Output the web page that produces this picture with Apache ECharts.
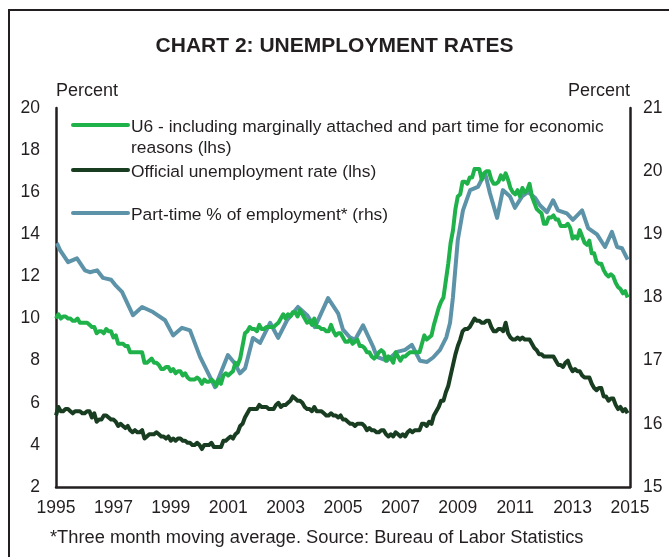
<!DOCTYPE html>
<html>
<head>
<meta charset="utf-8">
<script src="https://cdn.jsdelivr.net/npm/echarts@6/dist/echarts.min.js"></script>
<style>
html,body{margin:0;padding:0;background:#fff;}
#chart{width:669px;height:557px;}
</style>
</head>
<body>
<div id="chart"></div>
<script>
// ---- DATA ----
// monthly values, plotted from the left edge of the 1995 tick onward
const startYear = 1995;
const u6 = [
 10.0,10.2,10.0,10.1,10.1,10.0,10.0,9.9,9.9,10.0,
 9.8,9.8,9.8,9.8,9.7,9.6,9.6,9.3,9.4,9.4,9.3,9.5,
 9.4,9.4,9.1,9.2,8.8,8.8,8.8,8.7,8.7,8.4,8.4,8.4,
 8.4,8.4,8.4,7.9,7.9,8.0,8.1,7.9,7.9,7.8,7.6,7.6,
 7.7,7.7,7.5,7.6,7.4,7.5,7.5,7.3,7.4,7.2,7.1,7.1,
 7.1,7.2,7.1,6.9,7.1,7.0,7.0,7.1,7.0,6.8,7.1,6.9,
 7.3,7.4,7.3,7.4,7.5,7.9,7.8,8.1,8.7,9.3,9.4,9.6,
 9.5,9.5,9.4,9.7,9.5,9.5,9.6,9.6,9.6,9.6,9.7,9.8,
 10.0,10.2,10.0,10.2,10.1,10.3,10.3,10.1,10.4,10.2,10.0,9.8,
 9.9,9.7,10.0,9.6,9.6,9.5,9.5,9.4,9.4,9.7,9.4,9.2,
 9.3,9.3,9.1,8.9,8.9,9.0,8.8,8.9,9.0,8.7,8.7,8.6,
 8.4,8.4,8.2,8.1,8.2,8.4,8.5,8.4,8.0,8.2,8.1,7.9,
 8.4,8.2,8.0,8.2,8.2,8.3,8.4,8.4,8.4,8.4,8.4,8.8,
 9.2,9.0,9.1,9.2,9.7,10.1,10.5,10.8,11.0,11.8,12.6,13.6,
 14.2,15.2,15.8,15.9,16.5,16.5,16.4,16.7,16.7,17.1,17.1,17.1,
 16.6,16.9,17.0,17.0,16.6,16.4,16.4,16.5,16.8,16.6,16.9,16.6,
 16.2,16.0,15.9,16.1,15.8,16.2,16.0,16.1,16.4,15.8,15.5,15.2,
 15.1,15.0,14.5,14.5,14.8,14.8,14.9,14.7,14.7,14.4,14.4,14.4,
 14.5,14.3,13.8,13.9,13.8,14.2,13.9,13.6,13.5,13.7,13.1,13.1,
 12.7,12.6,12.6,12.3,12.1,12.0,12.1,12.0,11.7,11.5,11.4,11.2,
 11.3,11.0
];
const official = [
 5.4,5.8,5.6,5.6,5.7,5.7,5.6,5.5,5.6,5.6,
 5.6,5.5,5.5,5.6,5.6,5.3,5.5,5.1,5.2,5.2,5.4,5.4,
 5.3,5.2,5.2,5.1,4.9,5.0,4.9,4.8,4.9,4.7,4.6,4.7,
 4.6,4.6,4.7,4.3,4.4,4.5,4.5,4.5,4.6,4.5,4.4,4.4,
 4.3,4.4,4.2,4.3,4.2,4.3,4.3,4.2,4.2,4.1,4.1,4.0,
 4.0,4.1,4.0,3.8,4.0,4.0,4.0,4.1,3.9,3.9,3.9,3.9,
 4.2,4.2,4.3,4.4,4.3,4.5,4.6,4.9,5.0,5.3,5.5,5.7,
 5.7,5.7,5.7,5.9,5.8,5.8,5.8,5.7,5.7,5.7,5.9,6.0,
 5.8,5.9,5.9,6.0,6.1,6.3,6.2,6.1,6.1,6.0,5.8,5.7,
 5.7,5.6,5.8,5.6,5.6,5.6,5.5,5.4,5.4,5.5,5.4,5.4,
 5.3,5.4,5.2,5.2,5.1,5.0,5.0,4.9,5.0,5.0,5.0,4.9,
 4.7,4.8,4.7,4.7,4.6,4.6,4.7,4.7,4.5,4.4,4.5,4.4,
 4.6,4.5,4.4,4.5,4.4,4.6,4.7,4.6,4.7,4.7,4.7,5.0,
 5.0,4.9,5.1,5.0,5.4,5.6,5.8,6.1,6.1,6.5,6.8,7.3,
 7.8,8.3,8.7,9.0,9.4,9.5,9.5,9.6,9.8,10.0,9.9,9.9,
 9.8,9.8,9.9,9.9,9.6,9.4,9.4,9.5,9.5,9.4,9.8,9.3,
 9.1,9.0,9.0,9.1,9.0,9.1,9.0,9.0,9.0,8.8,8.6,8.5,
 8.3,8.3,8.2,8.2,8.2,8.2,8.2,8.0,7.8,7.8,7.7,7.9,
 8.0,7.7,7.5,7.6,7.5,7.5,7.3,7.2,7.2,7.2,6.9,6.7,
 6.6,6.7,6.7,6.3,6.3,6.1,6.2,6.2,5.9,5.7,5.8,5.6,
 5.7,5.5
];
// Part-time % of employment (3-month MA), rhs
const ptDates = [
 1995.03,1995.14,1995.42,1995.73,1996.01,1996.18,1996.43,1996.64,1996.92,1997.06,
 1997.30,1997.68,1998.00,1998.38,1998.80,1999.08,1999.39,1999.67,2000.02,2000.37,
 2000.54,2000.99,2001.24,2001.41,2001.59,2001.86,2002.11,2002.46,2002.74,2003.05,
 2003.43,2003.75,2004.02,2004.48,2004.83,2005.00,2005.24,2005.42,2005.70,2006.05,
 2006.18,2006.53,2006.88,2007.16,2007.40,2007.68,2007.93,2008.14,2008.38,2008.60,
 2008.73,2008.83,2009.00,2009.18,2009.43,2009.70,2009.95,2010.12,2010.37,2010.57,
 2010.82,2010.99,2011.24,2011.45,2011.69,2011.86,2012.11,2012.32,2012.49,2012.80,
 2013.01,2013.33,2013.54,2013.85,2014.13,2014.37,2014.55,2014.72,2014.92
];
const ptValues = [
 18.86,18.75,18.56,18.62,18.43,18.40,18.43,18.31,18.28,18.20,
 18.09,17.72,17.85,17.77,17.64,17.40,17.52,17.48,17.06,16.74,
 16.58,17.09,16.95,16.80,16.88,17.36,17.28,17.60,17.36,17.64,
 17.85,17.72,17.53,17.99,17.75,17.49,17.37,17.33,17.56,17.22,
 17.06,17.00,17.14,17.17,17.25,17.00,16.98,17.05,17.17,17.37,
 17.60,18.00,18.91,19.38,19.70,19.75,19.97,19.65,19.26,19.70,
 19.60,19.42,19.60,19.67,19.58,19.46,19.35,19.54,19.38,19.33,
 19.23,19.38,19.10,19.00,18.80,19.04,18.80,18.78,18.60
];
const yearTicks = [1995,1997,1999,2001,2003,2005,2007,2009,2011,2013,2015];
const seriesNames = [
  'U6 - including marginally attached and part time for economic',
  'Official unemployment rate (lhs)',
  'Part-time % of employment* (rhs)'
];
const u6SecondLine = 'reasons (lhs)';
const titleText = 'CHART 2: UNEMPLOYMENT RATES';
const footText = '*Three month moving average. Source: Bureau of Labor Statistics';

// ---- STYLE ----
const FONT = '"Liberation Sans", Arial, sans-serif';
const TXT = '#231f20';
const C_U6 = '#1fb24b';
const C_OFF = '#183d21';
const C_PT = '#5d93a8';

const monthly = arr => arr.map((v, i) => [startYear + i / 12, v]);

const chart = echarts.init(document.getElementById('chart'), null, {renderer: 'canvas'});

const axisLine = {show: true, lineStyle: {color: '#231f20', width: 2.5}};
const labelStyle = {color: TXT, fontSize: 17.5, fontFamily: FONT};
const LEG_FONT = '17.4px ' + FONT;

const legendItems = [
  {name: seriesNames[0], color: C_U6, y: 125},
  {name: seriesNames[1], color: C_OFF, y: 170},
  {name: seriesNames[2], color: C_PT, y: 213}
];
const legendGraphics = [];
legendItems.forEach(it => {
  legendGraphics.push({type: 'line', shape: {x1: 73, y1: it.y, x2: 128, y2: it.y},
    style: {stroke: it.color, lineWidth: 4, lineCap: 'round'}});
  legendGraphics.push({type: 'text', x: 131, y: it.y + 2,
    style: {text: it.name, fill: TXT, font: LEG_FONT, verticalAlign: 'middle'}});
});
legendGraphics.push({type: 'text', x: 131, y: 148,
  style: {text: u6SecondLine, fill: TXT, font: LEG_FONT, verticalAlign: 'middle'}});

const option = {
  backgroundColor: '#fff',
  animation: false,
  title: {
    text: titleText, left: 'center', top: 31,
    textStyle: {fontSize: 21, fontWeight: 'bold', color: TXT, fontFamily: FONT}
  },
  grid: {left: 56, right: 39, top: 108, bottom: 70, containLabel: false},
  xAxis: {
    type: 'value', min: 1995, max: 2015, interval: 2,
    axisLine: axisLine, axisTick: {show: false}, splitLine: {show: false},
    axisLabel: Object.assign({margin: 12, formatter: v => yearTicks.includes(v) ? String(v) : ''}, labelStyle)
  },
  yAxis: [
    {
      type: 'value', min: 2, max: 20, interval: 2, position: 'left',
      name: 'Percent', nameLocation: 'end', nameGap: 8,
      nameTextStyle: {color: TXT, fontSize: 18, fontFamily: FONT, align: 'left', verticalAlign: 'bottom'},
      axisLine: axisLine, axisTick: {show: false}, splitLine: {show: false},
      axisLabel: Object.assign({margin: 16}, labelStyle)
    },
    {
      type: 'value', min: 15, max: 21, interval: 1, position: 'right',
      name: 'Percent', nameLocation: 'end', nameGap: 8,
      nameTextStyle: {color: TXT, fontSize: 18, fontFamily: FONT, align: 'right', verticalAlign: 'bottom'},
      axisLine: axisLine, axisTick: {show: false}, splitLine: {show: false},
      axisLabel: Object.assign({margin: 13}, labelStyle)
    }
  ],
  series: [
    {
      name: seriesNames[2], type: 'line', yAxisIndex: 1, showSymbol: false, z: 2,
      data: ptDates.map((d, i) => [d, ptValues[i]]),
      lineStyle: {color: C_PT, width: 4, join: 'round'}, itemStyle: {color: C_PT}
    },
    {
      name: seriesNames[1], type: 'line', yAxisIndex: 0, showSymbol: false, z: 3,
      data: monthly(official),
      lineStyle: {color: C_OFF, width: 4, join: 'round'}, itemStyle: {color: C_OFF}
    },
    {
      name: seriesNames[0], type: 'line', yAxisIndex: 0, showSymbol: false, z: 4,
      data: monthly(u6),
      lineStyle: {color: C_U6, width: 4, join: 'round'}, itemStyle: {color: C_U6}
    }
  ],
  graphic: [
    {type: 'rect', shape: {x: 9, y: 10, width: 700, height: 600},
      style: {fill: 'none', stroke: '#231f20', lineWidth: 2}, silent: true},
    {type: 'text', x: 50, y: 538,
      style: {text: footText, fill: TXT, font: '18.3px ' + FONT, verticalAlign: 'middle'}},
    {type: 'group', children: legendGraphics}
  ]
};
chart.setOption(option);
</script>
</body>
</html>
